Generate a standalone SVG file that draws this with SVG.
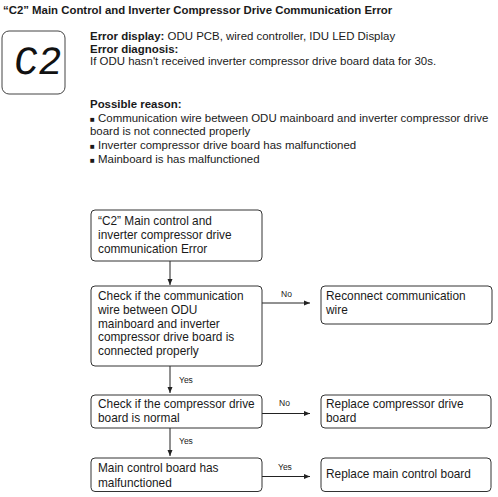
<svg xmlns="http://www.w3.org/2000/svg" width="498" height="497" viewBox="0 0 498 497">
<style>
text{font-family:"Liberation Sans",Arial,sans-serif;fill:#1a1a1a}
.t{font-size:11.45px}
.bx{font-size:11.85px}
.b{font-weight:bold}
.h{font-size:11.4px;font-weight:bold}
.lbl{font-size:8.5px}
.box{fill:#fff;stroke:#333;stroke-width:1}
.con{stroke:#222;stroke-width:1;fill:none}
.bul{font-size:8px}
</style>
<defs>
<marker id="ah" markerUnits="userSpaceOnUse" markerWidth="6" markerHeight="6" refX="6" refY="3" orient="auto">
<path d="M0,0.5 L6,3 L0,5.5 z" fill="#222"/>
</marker>
</defs>
<rect width="498" height="497" fill="#fff"/>
<g id="header">
<text class="h" x="3" y="14">“C2” Main Control and Inverter Compressor Drive Communication Error</text>
<rect x="2" y="31" width="63" height="63" rx="7" fill="#fff" stroke="#444" stroke-width="1"/>
<text x="14" y="74" style="font-family:'Liberation Mono',monospace;font-size:40px;fill:#111" transform="skewX(-8) translate(9,0)">C2</text>
<text class="t" x="90" y="40"><tspan class="b">Error display:</tspan> ODU PCB, wired controller, IDU LED Display</text>
<text class="t b" x="90" y="52.5">Error diagnosis:</text>
<text class="t" x="90" y="65">If ODU hasn't received inverter compressor drive board data for 30s.</text>
<text class="t b" x="90" y="108">Possible reason:</text>
<text class="t" x="90" y="121.7"><tspan class="bul">■</tspan> Communication wire between ODU mainboard and inverter compressor drive</text>
<text class="t" x="90" y="135.4">board is not connected properly</text>
<text class="t" x="90" y="149"><tspan class="bul">■</tspan> Inverter compressor drive board has malfunctioned</text>
<text class="t" x="90" y="162.7"><tspan class="bul">■</tspan> Mainboard is has malfunctioned</text>
</g>
<g id="connectors">
<line class="con" x1="170" y1="261" x2="170" y2="285" marker-end="url(#ah)"/>
<line class="con" x1="262" y1="303" x2="310" y2="303" marker-end="url(#ah)"/>
<text class="lbl" x="281" y="297">No</text>
<line class="con" x1="170" y1="366" x2="170" y2="393" marker-end="url(#ah)"/>
<text class="lbl" x="179" y="383">Yes</text>
<line class="con" x1="262" y1="413.5" x2="310" y2="413.5" marker-end="url(#ah)"/>
<text class="lbl" x="279" y="406">No</text>
<line class="con" x1="170" y1="428" x2="170" y2="456" marker-end="url(#ah)"/>
<text class="lbl" x="179" y="444">Yes</text>
<line class="con" x1="262" y1="476.5" x2="310" y2="476.5" marker-end="url(#ah)"/>
<text class="lbl" x="278" y="470">Yes</text>
</g>
<g id="n1">
<rect class="box" x="91" y="210" width="171" height="51" rx="4"/>
<text class="bx" x="98" y="225">“C2” Main control and</text>
<text class="bx" x="98" y="239">inverter compressor drive</text>
<text class="bx" x="98" y="252.7">communication Error</text>
</g>
<g id="n2">
<rect class="box" x="91" y="286" width="171" height="80" rx="4"/>
<text class="bx" x="98" y="300">Check if the communication</text>
<text class="bx" x="98" y="313.7">wire between ODU</text>
<text class="bx" x="98" y="327.5">mainboard and inverter</text>
<text class="bx" x="98" y="341">compressor drive board is</text>
<text class="bx" x="98" y="355">connected properly</text>
</g>
<g id="n3">
<rect class="box" x="321" y="286" width="171" height="38" rx="4"/>
<text class="bx" x="326" y="300">Reconnect communication</text>
<text class="bx" x="326" y="314">wire</text>
</g>
<g id="n4">
<rect class="box" x="91" y="395" width="171" height="33" rx="4"/>
<text class="bx" x="98" y="408.3">Check if the compressor drive</text>
<text class="bx" x="98" y="422.3">board is normal</text>
</g>
<g id="n5">
<rect class="box" x="321" y="395" width="170" height="33" rx="4"/>
<text class="bx" x="326" y="408.3">Replace compressor drive</text>
<text class="bx" x="326" y="422.3">board</text>
</g>
<g id="n6">
<rect class="box" x="91" y="458" width="171" height="33.5" rx="4"/>
<text class="bx" x="98" y="471.7">Main control board has</text>
<text class="bx" x="98" y="486.5">malfunctioned</text>
</g>
<g id="n7">
<rect class="box" x="321" y="458" width="170" height="33.5" rx="4"/>
<text class="bx" x="326" y="478.3">Replace main control board</text>
</g>
</svg>
